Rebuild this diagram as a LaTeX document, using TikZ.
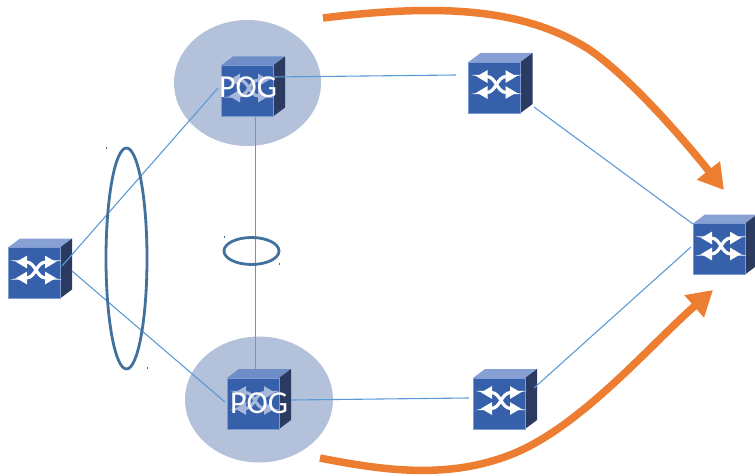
\documentclass[tikz,border=0pt]{standalone}
\usepackage{fontspec}
\setsansfont{Carlito}
\usepackage{tikz}
\usetikzlibrary{arrows.meta}

\definecolor{frontblue}{HTML}{3760AA}
\definecolor{edgeblue}{HTML}{7F9BD3}
\definecolor{topblue}{HTML}{87A0D4}
\definecolor{sideblue}{HTML}{2A3A60}
\definecolor{halo}{HTML}{B3C1DA}
\definecolor{linkblue}{HTML}{5B9BD5}
\definecolor{ringblue}{HTML}{41719C}
\definecolor{flow}{HTML}{ED7D31}
\definecolor{dimarrow}{HTML}{A5B7DA}

\tikzset{
frontbox/.style={draw=edgeblue,fill=frontblue,line width=0.6pt,minimum width=52pt,minimum height=51pt,inner sep=0pt,outer sep=0pt},
crossing/.style={line width=3.2pt,{Triangle[length=11pt,width=12pt]}-{Triangle[length=11pt,width=12pt]}},
link/.style={linkblue,line width=1.1pt},
ring/.style={ringblue,line width=2.8pt},
flowarrow/.style={flow,line width=7.5pt,-{Triangle[length=25pt,width=28pt]}},
podname/.style={white,font=\sffamily\fontsize{32}{32}\selectfont,inner sep=0pt},
speck/.style={ringblue,line width=0.5pt}
}

% #1 name, #2 centre of the front face, #3 top colour, #4 arrow colour
\newcommand{\switchbox}[4]{
\fill [#3] (#2) ++(-26,-25.5) -- ++(12,-9) -- ++(52,0) -- ++(-12,9) -- cycle;
\fill [sideblue] (#2) ++(26,-25.5) -- ++(12,-9) -- ++(0,51) -- ++(-12,9) -- cycle;
\node (#1) [frontbox] at (#2) {};
\begin{scope}[shift={(#2)},shift={(2,-3)}]
\draw [crossing,#4] (-20,-8) -- (-10,-8) .. controls (0,-8) and (0,8) .. (10,8) -- (20,8);
\draw [crossing,#4] (-20,8) -- (-10,8) .. controls (0,8) and (0,-8) .. (10,-8) -- (20,-8);
\end{scope}
}

\begin{document}
\begin{tikzpicture}[x=1pt,y=-1pt]

\useasboundingbox (0,0) rectangle (755,476);

\fill [halo] (247.5,83) ellipse (73.5 and 63);
\fill [halo] (259,399.5) ellipse (74 and 63);

\switchbox{swLeft}{34,273}{topblue}{white}
\switchbox{swTop}{247,91}{topblue!70!frontblue}{dimarrow}
\switchbox{swBottom}{253,403.5}{topblue!70!frontblue}{dimarrow}
\switchbox{swMidTop}{494.5,87.5}{topblue}{white}
\switchbox{swMidBottom}{499,403.5}{topblue}{white}
\switchbox{swRight}{719,249}{topblue}{white}

\node (pogTop) [podname] at (248,87) {POG};
\node (pogBottom) [podname] at (259,403) {POG};

% free ends of the links
\coordinate (a1) at (62,266); \coordinate (a2) at (218,88);
\coordinate (b1) at (72,271); \coordinate (b2) at (225,402);
\coordinate (c1) at (255.5,117); \coordinate (c2) at (255.5,369);
\coordinate (d1) at (273,77); \coordinate (d2) at (456,75);
\coordinate (e1) at (291,400); \coordinate (e2) at (469,398);
\coordinate (f1) at (534,107); \coordinate (f2) at (693,224);
\coordinate (g1) at (534,388); \coordinate (g2) at (691,247);

\draw [link] (a1) -- (a2);
\draw [link] (b1) -- (b2);
\draw [link] (c1) -- (c2);
\draw [link] (d1) -- (d2);
\draw [link] (e1) -- (e2);
\draw [link] (f1) -- (f2);
\draw [link] (g1) -- (g2);

\draw [ring] (126.5,258.5) ellipse (20.5 and 110.5);
\draw [ring] (251.5,251) ellipse (27.5 and 13.5);

\draw [speck] (106,147) -- (106,149); \draw [speck] (147,367) -- (147,369);
\draw [speck] (224,236) -- (224,238); \draw [speck] (279,263) -- (279,265);

\coordinate (t1) at (323,18); \coordinate (t2) at (724,190);
\coordinate (u1) at (320,458); \coordinate (u2) at (713,290);

\draw [flowarrow] (t1) .. controls (430,5) and (520,5) .. (590,50) .. controls (630,78) and (680,135) .. (t2);
\draw [flowarrow] (u1) .. controls (390,472) and (450,478) .. (510,455) .. controls (580,428) and (650,345) .. (u2);

\end{tikzpicture}
\end{document}
